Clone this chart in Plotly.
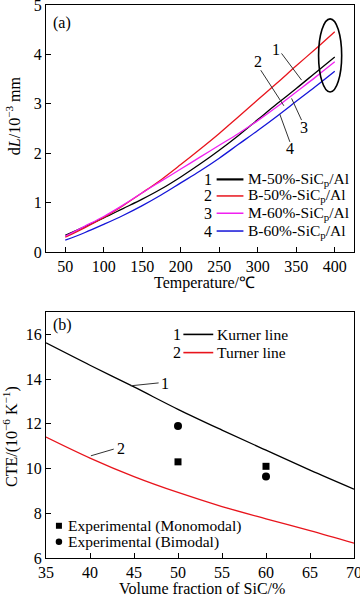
import plotly.graph_objects as go

# ---------------- data ----------------
temperature = [50, 75, 100, 125, 150, 175, 200, 225, 250, 275, 300, 325, 350, 375, 400]
m50 = [0.34, 0.51, 0.69, 0.88, 1.07, 1.28, 1.52, 1.78, 2.06, 2.36, 2.68, 3.00, 3.31, 3.63, 3.95]
b50 = [0.30, 0.49, 0.70, 0.94, 1.20, 1.47, 1.77, 2.08, 2.40, 2.74, 3.08, 3.42, 3.77, 4.11, 4.46]
m60 = [0.32, 0.52, 0.72, 0.95, 1.20, 1.44, 1.68, 1.92, 2.16, 2.40, 2.66, 2.94, 3.24, 3.54, 3.85]
b60 = [0.24, 0.39, 0.56, 0.74, 0.94, 1.16, 1.40, 1.64, 1.90, 2.18, 2.46, 2.75, 3.05, 3.35, 3.66]
series_a_names = ["M-50%-SiC<sub>p</sub>/Al", "B-50%-SiC<sub>p</sub>/Al",
                  "M-60%-SiC<sub>p</sub>/Al", "B-60%-SiC<sub>p</sub>/Al"]
series_a_colors = ["black", "#e8141c", "#f020f0", "#1414d8"]

vol_frac = [35, 40, 45, 50, 55, 60, 65, 70]
kurner = [15.62, 14.62, 13.65, 12.65, 11.72, 10.82, 9.93, 9.08]
turner = [11.41, 10.47, 9.64, 8.93, 8.30, 7.75, 7.22, 6.66]
exp_vf = [50, 60]
exp_mono = [10.3, 10.1]
exp_bi = [11.9, 9.65]

temp_ticks = [50, 100, 150, 200, 250, 300, 350, 400]
dl_ticks = [0, 1, 2, 3, 4, 5]
vf_ticks = [35, 40, 45, 50, 55, 60, 65, 70]
cte_ticks = [6, 8, 10, 12, 14, 16]

FONT = "Liberation Serif, Times New Roman, serif"

fig = go.Figure()

for ys, name, col in zip([m50, b50, m60, b60], series_a_names, series_a_colors):
    fig.add_trace(go.Scatter(x=temperature, y=ys, mode="lines", name=name,
                             line=dict(color=col, width=1.3, shape="spline"),
                             xaxis="x", yaxis="y", showlegend=False))

fig.add_trace(go.Scatter(x=vol_frac, y=kurner, mode="lines", name="Kurner line",
                         line=dict(color="black", width=1.3, shape="spline"),
                         xaxis="x2", yaxis="y2", showlegend=False))
fig.add_trace(go.Scatter(x=vol_frac, y=turner, mode="lines", name="Turner line",
                         line=dict(color="#e8141c", width=1.3, shape="spline"),
                         xaxis="x2", yaxis="y2", showlegend=False))
fig.add_trace(go.Scatter(x=exp_vf, y=exp_mono, mode="markers", name="Experimental (Monomodal)",
                         marker=dict(symbol="square", size=7, color="black"),
                         xaxis="x2", yaxis="y2", showlegend=False))
fig.add_trace(go.Scatter(x=exp_vf, y=exp_bi, mode="markers", name="Experimental (Bimodal)",
                         marker=dict(symbol="circle", size=8, color="black"),
                         xaxis="x2", yaxis="y2", showlegend=False))

axis_common = dict(showline=True, linecolor="black", linewidth=1.2, mirror=True,
                   ticks="inside", ticklen=5, tickwidth=1, tickcolor="black",
                   showgrid=False, zeroline=False, automargin=False,
                   ticklabeloverflow="allow",
                   tickfont=dict(family=FONT, size=16, color="black"))

TOP0, TOP1 = 0.5533, 1.0
BOT0, BOT1 = 0.0, 0.4448

fig.update_layout(
    width=360, height=600,
    margin=dict(l=46, r=6, t=5, b=42, autoexpand=False),
    paper_bgcolor="white", plot_bgcolor="white",
    font=dict(family=FONT, size=16, color="black"),
    xaxis=dict(domain=[0, 1], range=[25, 425], tickvals=temp_ticks, anchor="y", **axis_common),
    yaxis=dict(domain=[TOP0, TOP1], range=[0, 5], tickvals=dl_ticks, anchor="x", **axis_common),
    xaxis2=dict(domain=[0, 1], range=[35, 70], tickvals=vf_ticks, anchor="y2", **axis_common),
    yaxis2=dict(domain=[BOT0, BOT1], range=[6, 17], tickvals=cte_ticks, anchor="x2", **axis_common),
)

ann = []
shapes = []

def txt(x, y, text, xref="paper", yref="paper", xanchor="center", yanchor="middle", size=16, angle=0):
    ann.append(dict(x=x, y=y, xref=xref, yref=yref, text=text, showarrow=False,
                    xanchor=xanchor, yanchor=yanchor, textangle=angle,
                    font=dict(family=FONT, size=size, color="black")))

# axis titles
txt(0.513, 0.4973, "Temperature/℃")
txt(-0.107, 0.799, "d<i>L</i>/10<sup>−3</sup> mm", angle=-90)
txt(0.505, -0.056, "Volume fraction of SiC/%")
txt(-0.117, 0.2206, "CTE/(10<sup>−6</sup> K<sup>−1</sup>)", angle=-90)

# panel labels
txt(0.052, 0.928, "(a)", xref="x domain", yref="y domain")
txt(0.052, 0.947, "(b)", xref="x2 domain", yref="y2 domain")

# panel (a) legend
rows_a = [0.294, 0.227, 0.157, 0.085]
for i, (name, col, yy) in enumerate(zip(series_a_names, series_a_colors, rows_a)):
    txt(0.526, yy, str(i + 1), xref="x domain", yref="y domain")
    shapes.append(dict(type="line", xref="x domain", yref="y domain", x0=0.554, x1=0.641,
                       y0=yy, y1=yy, line=dict(color=col, width=2.2 if i == 0 else 1.5)))
    txt(0.648, yy, name, xref="x domain", yref="y domain", xanchor="left", size=15.5)

# panel (a) leaders and numbers
leaders_a = [((330.9, 4.02), (356.9, 3.48), (324.3, 4.10), "1"),
             ((303.9, 3.68), (333.9, 2.96), (300.4, 3.85), "2"),
             ((343.9, 3.11), (356.9, 2.67), (360.3, 2.52), "3"),
             ((328.6, 2.79), (341.7, 2.23), (341.7, 2.09), "4")]
for (p0, p1, lp, lab) in leaders_a:
    shapes.append(dict(type="line", xref="x", yref="y", x0=p0[0], y0=p0[1], x1=p1[0], y1=p1[1],
                       line=dict(color="#333333", width=1)))
    txt(lp[0], lp[1], lab, xref="x", yref="y")

# ellipse highlight
shapes.append(dict(type="circle", xref="x", yref="y", x0=379, x1=409, y0=3.24, y1=4.72,
                   line=dict(color="black", width=1.6)))

# panel (b) line legend
for i, (name, col, yy) in enumerate(zip(["Kurner line", "Turner line"], ["black", "#e8141c"], [0.909, 0.835])):
    txt(0.424, yy, str(i + 1), xref="x2 domain", yref="y2 domain")
    shapes.append(dict(type="line", xref="x2 domain", yref="y2 domain", x0=0.446, x1=0.543,
                       y0=yy, y1=yy, line=dict(color=col, width=1.6)))
    txt(0.548, yy, name, xref="x2 domain", yref="y2 domain", xanchor="left", size=15.5)

# panel (b) marker legend
sx, sw, sh = 0.042, 6.0 / 308, 6.0 / 246
shapes.append(dict(type="rect", xref="x2 domain", yref="y2 domain",
                   x0=sx - sw / 2, x1=sx + sw / 2, y0=0.131 - sh / 2, y1=0.131 + sh / 2,
                   fillcolor="black", line=dict(width=0)))
cw, ch = 6.5 / 308, 6.5 / 246
shapes.append(dict(type="circle", xref="x2 domain", yref="y2 domain",
                   x0=sx - cw / 2, x1=sx + cw / 2, y0=0.066 - ch / 2, y1=0.066 + ch / 2,
                   fillcolor="black", line=dict(width=0)))
txt(0.066, 0.131, "Experimental (Monomodal)", xref="x2 domain", yref="y2 domain", xanchor="left", size=15.5)
txt(0.066, 0.066, "Experimental (Bimodal)", xref="x2 domain", yref="y2 domain", xanchor="left", size=15.5)

# panel (b) leaders
leaders_b = [((44.6, 13.70), (47.8, 13.83), (48.5, 13.80), "1"),
             ((40.1, 10.57), (42.7, 10.87), (43.5, 10.90), "2")]
for (p0, p1, lp, lab) in leaders_b:
    shapes.append(dict(type="line", xref="x2", yref="y2", x0=p0[0], y0=p0[1], x1=p1[0], y1=p1[1],
                       line=dict(color="#333333", width=1)))
    txt(lp[0], lp[1], lab, xref="x2", yref="y2")

fig.update_layout(annotations=ann, shapes=shapes)
fig.write_html("out.html",
               config={"displayModeBar": False},
               post_script="document.body.style.margin='0';document.body.style.padding='0';")
